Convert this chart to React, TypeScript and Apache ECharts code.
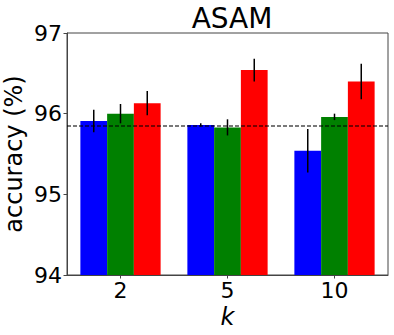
import React, { useEffect, useRef } from "react";
import * as echarts from "echarts";

const categories = ["2", "5", "10"];
const blueVals = [95.91, 95.86, 95.54];
const blueErr = [0.14, 0.02, 0.27];
const greenVals = [96.0, 95.83, 95.96];
const greenErr = [0.12, 0.1, 0.04];
const redVals = [96.13, 96.54, 96.4];
const redErr = [0.15, 0.14, 0.22];
const baseline = 95.85;
const yTicks = [94, 95, 96, 97];

const FONT = "DejaVu Sans";
const colors = ["#0000ff", "#008000", "#ff0000"];

export default function App() {
  const ref = useRef<HTMLDivElement>(null);
  useEffect(() => {
    if (!ref.current) return;
    const chart = echarts.init(ref.current, null, { renderer: "svg" });
    const groups = [
      { vals: blueVals, err: blueErr },
      { vals: greenVals, err: greenErr },
      { vals: redVals, err: redErr },
    ];
    const barSeries: any[] = groups.map((g, i) => ({
      type: "bar",
      data: g.vals,
      itemStyle: { color: colors[i] },
      barGap: "0%",
      barCategoryGap: "25%",
      z: 2,
      ...(i === 0
        ? {
            markLine: {
              silent: true,
              symbol: "none",
              label: { show: false },
              lineStyle: { color: "#000", opacity: 0.7, type: [4, 2], width: 1.5 },
              data: [{ yAxis: baseline }],
              z: 5,
            },
          }
        : {}),
    }));
    const errData: number[][] = [];
    groups.forEach((g, si) => {
      g.vals.forEach((v, ci) => errData.push([ci, v, g.err[ci], si]));
    });
    const errSeries = {
      type: "custom",
      data: errData,
      encode: { x: 0, y: 1 },
      z: 10,
      renderItem: (params: any, api: any) => {
        const ci = api.value(0);
        const v = api.value(1);
        const e = api.value(2);
        const si = api.value(3);
        const band = api.size([1, 0])[0];
        const bw = (band * 0.75) / 3;
        const off = (si - 1) * bw;
        const p1 = api.coord([ci, v - e]);
        const p2 = api.coord([ci, v + e]);
        return {
          type: "line",
          shape: { x1: p1[0] + off, y1: p1[1], x2: p2[0] + off, y2: p2[1] },
          style: { stroke: "#000", lineWidth: 1.5 },
        };
      },
    };
    chart.setOption({
      animation: false,
      title: {
        text: "ASAM",
        left: 227,
        textAlign: "center",
        top: -1,
        textStyle: { fontFamily: FONT, fontSize: 28, fontWeight: "normal", color: "#000" },
      },
      grid: {
        left: 67,
        right: 6,
        top: 33,
        bottom: 60,
        show: true,
        borderColor: "#444",
        borderWidth: 1,
        backgroundColor: "transparent",
        containLabel: false,
        outerBoundsMode: "none",
      },
      xAxis: {
        type: "category",
        data: categories,
        axisLine: { show: true, lineStyle: { color: "#444", width: 1 } },
        axisTick: { show: true, alignWithLabel: true, length: 3.5, lineStyle: { color: "#444" } },
        axisLabel: { fontFamily: FONT, fontSize: 22, color: "#000", margin: 4 },
        name: "k",
        nameLocation: "middle",
        nameGap: 30,
        nameMoveOverlap: false,
        nameTextStyle: { fontFamily: FONT, fontSize: 24, fontStyle: "italic", color: "#000" },
      },
      yAxis: {
        type: "value",
        min: yTicks[0],
        max: yTicks[yTicks.length - 1],
        interval: 1,
        splitLine: { show: false },
        axisLine: { show: true, lineStyle: { color: "#444", width: 1 } },
        axisTick: { show: true, length: 3.5, lineStyle: { color: "#444" } },
        axisLabel: { fontFamily: FONT, fontSize: 22, color: "#000", margin: 5 },
        name: "accuracy (%)",
        nameLocation: "middle",
        nameRotate: 90,
        nameGap: 41,
        nameMoveOverlap: false,
        nameTextStyle: { fontFamily: FONT, fontSize: 24, color: "#000" },
      },
      series: [...barSeries, errSeries],
    });
    return () => chart.dispose();
  }, []);
  return <div ref={ref} style={{ width: 394, height: 335, position: "absolute", left: 0, top: 0 }} />;
}
